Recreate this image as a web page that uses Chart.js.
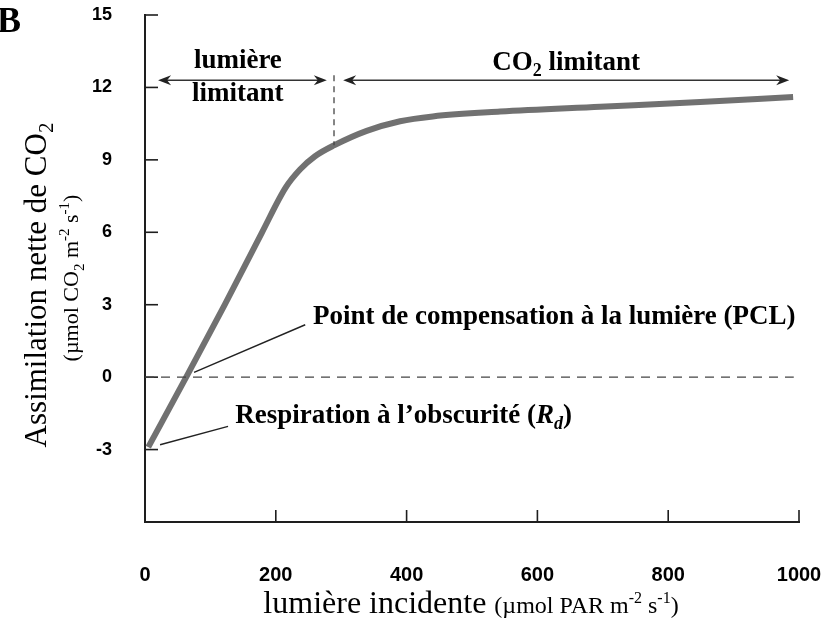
<!DOCTYPE html>
<html>
<head>
<meta charset="utf-8">
<script src="https://cdn.jsdelivr.net/npm/chart.js@4.4.1/dist/chart.umd.min.js"></script>
<style>
  html, body { margin: 0; padding: 0; background: #fff; }
  #wrap { width: 828px; height: 620px; position: relative; }
</style>
</head>
<body>
<div id="wrap"><canvas id="chart"></canvas></div>
<script>
// light response curve (µmol PAR m-2 s-1 -> µmol CO2 m-2 s-1)
const parLevels = [5, 63, 122, 179, 215, 237, 260, 289, 339, 390, 440, 543, 696, 849, 991];
const netAssim = [-2.9, 0, 3, 6, 7.85, 8.6, 9.15, 9.6, 10.2, 10.6, 10.8, 11.0, 11.2, 11.4, 11.6];

const xTickValues = [0, 200, 400, 600, 800, 1000];
const yTickValues = [15, 12, 9, 6, 3, 0, -3];

// where the two regimes meet (dashed vertical) and the arrows above the curve
const limitX = 289;
const limitY = 9.6;
const arrowY = 12.3;

const SERIF = '"Liberation Serif", "Times New Roman", serif';
const SANS = '"Liberation Sans", Arial, sans-serif';

// draws a sequence of [text, font, dy] pieces one after another
function drawRuns(ctx, runs, x, y, align) {
  let total = 0;
  runs.forEach(r => { ctx.font = r[1]; total += ctx.measureText(r[0]).width; });
  let cx = align === "center" ? x - total / 2 : x;
  runs.forEach(r => {
    ctx.font = r[1];
    ctx.fillText(r[0], cx, y + (r[2] || 0));
    cx += ctx.measureText(r[0]).width;
  });
}

function arrowHead(ctx, x, y, dir) {
  ctx.beginPath();
  ctx.moveTo(x, y);
  ctx.lineTo(x - dir * 13, y - 5);
  ctx.lineTo(x - dir * 9, y);
  ctx.lineTo(x - dir * 13, y + 5);
  ctx.closePath();
  ctx.fill();
}

const annotations = {
  id: "annotations",
  afterDraw(chart) {
    const { ctx } = chart;
    const xs = chart.scales.x;
    const ys = chart.scales.y;
    const px = v => xs.getPixelForValue(v);
    const py = v => ys.getPixelForValue(v);

    ctx.save();
    ctx.strokeStyle = "#1e1e1e";
    ctx.fillStyle = "#1e1e1e";

    // inward tick marks
    ctx.lineWidth = 1.6;
    yTickValues.forEach(v => {
      ctx.beginPath();
      ctx.moveTo(px(0), py(v));
      ctx.lineTo(px(0) + 13, py(v));
      ctx.stroke();
    });
    xTickValues.slice(1).forEach(v => {
      ctx.beginPath();
      ctx.moveTo(px(v), py(-6));
      ctx.lineTo(px(v), py(-6) - 12);
      ctx.stroke();
    });

    // zero line
    ctx.lineWidth = 1.3;
    ctx.strokeStyle = "#444";
    ctx.setLineDash([9, 7]);
    ctx.beginPath();
    ctx.moveTo(px(0), py(0));
    ctx.lineTo(px(992), py(0));
    ctx.stroke();

    // boundary between the two regimes
    ctx.setLineDash([6, 5]);
    ctx.beginPath();
    ctx.moveTo(px(limitX), py(arrowY + 0.2));
    ctx.lineTo(px(limitX), py(limitY));
    ctx.stroke();
    ctx.setLineDash([]);

    // double arrows
    ctx.strokeStyle = "#333";
    ctx.fillStyle = "#222";
    ctx.lineWidth = 1.5;
    [[20, 278], [303, 985]].forEach(([a, b]) => {
      ctx.beginPath();
      ctx.moveTo(px(a) + 4, py(arrowY));
      ctx.lineTo(px(b) - 4, py(arrowY));
      ctx.stroke();
      arrowHead(ctx, px(a), py(arrowY), -1);
      arrowHead(ctx, px(b), py(arrowY), 1);
    });

    // leader lines
    ctx.strokeStyle = "#222";
    ctx.lineWidth = 1.4;
    ctx.beginPath();
    ctx.moveTo(px(75), py(0.2));
    ctx.lineTo(px(245), py(2.17));
    ctx.moveTo(px(23), py(-2.8));
    ctx.lineTo(px(127), py(-2.04));
    ctx.stroke();

    // annotation text
    ctx.fillStyle = "#000";
    ctx.textBaseline = "alphabetic";
    ctx.textAlign = "left";
    const bold = "bold 27px " + SERIF;
    const boldSub = "bold 18px " + SERIF;
    drawRuns(ctx, [["lumière", bold]], px(142), py(12.79), "center");
    drawRuns(ctx, [["limitant", bold]], px(142), py(11.42), "center");
    drawRuns(ctx, [["CO", bold], ["2", boldSub, 6], [" limitant", bold]], px(644), py(12.71), "center");
    drawRuns(ctx, [["Point de compensation à la lumière (PCL)", bold]], px(257), py(2.2), "left");
    drawRuns(ctx, [["Respiration à l\u2019obscurité (", bold], ["R", "italic bold 27px " + SERIF],
                   ["d", "italic bold 18px " + SERIF, 6], [")", bold]], px(138), py(-1.92), "left");

    // panel letter
    drawRuns(ctx, [["B", "bold 36px " + SERIF]], -3, 32, "left");

    // x axis title
    const main = "31px " + SERIF;
    const small = "22px " + SERIF;
    const sup = "15px " + SERIF;
    drawRuns(ctx, [["lumière incidente ", "32px " + SERIF], ["(µmol PAR m", "24px " + SERIF], ["-2", "16px " + SERIF, -10],
                   [" s", "24px " + SERIF], ["-1", "16px " + SERIF, -10], [")", "24px " + SERIF]], 471, 613, "center");

    // y axis title, rotated
    ctx.save();
    ctx.translate(46, 285);
    ctx.rotate(-Math.PI / 2);
    drawRuns(ctx, [["Assimilation nette de CO", main], ["2", "21px " + SERIF, 7]], 0, 0, "center");
    ctx.restore();
    ctx.save();
    ctx.translate(78, 278);
    ctx.rotate(-Math.PI / 2);
    drawRuns(ctx, [["(µmol CO", small], ["2", sup, 6], [" m", small], ["-2", sup, -9],
                   [" s", small], ["-1", sup, -9], [")", small]], 0, 0, "center");
    ctx.restore();

    ctx.restore();
  },
};

new Chart(document.getElementById("chart"), {
  type: "line",
  plugins: [annotations],
  data: {
    datasets: [
      {
        data: parLevels.map((x, i) => ({ x, y: netAssim[i] })),
        borderColor: "rgba(105,105,105,0.95)",
        borderWidth: 6,
        pointRadius: 0,
        cubicInterpolationMode: "monotone",
        fill: false,
      },
    ],
  },
  options: {
    responsive: true,
    maintainAspectRatio: false,
    animation: false,
    layout: { padding: { left: 0, top: 15, right: 29, bottom: 0 } },
    plugins: { legend: { display: false }, tooltip: { enabled: false } },
    scales: {
      x: {
        type: "linear",
        min: 0,
        max: 1000,
        afterFit: s => {
          s.height = 98;
          s.paddingLeft = 0;
          s.paddingRight = 0;
        },
        afterBuildTicks: s => { s.ticks = xTickValues.map(v => ({ value: v })); },
        grid: { display: false, drawTicks: false, tickLength: 0 },
        border: { display: true, color: "#1e1e1e", width: 2 },
        ticks: {
          color: "#000",
          padding: 41,
          maxRotation: 0,
          callback: v => String(v),
          font: { family: SANS, weight: "bold", size: 20 },
        },
      },
      y: {
        type: "linear",
        min: -6,
        max: 15,
        afterFit: s => {
          s.width = 145;
          s.paddingTop = 0;
          s.paddingBottom = 0;
        },
        afterBuildTicks: s => { s.ticks = yTickValues.map(v => ({ value: v })); },
        grid: { display: false, drawTicks: false, tickLength: 0 },
        border: { display: true, color: "#1e1e1e", width: 2 },
        ticks: {
          color: "#000",
          padding: 33,
          font: { family: SANS, weight: "bold", size: 18 },
        },
      },
    },
  },
});
</script>
</body>
</html>
